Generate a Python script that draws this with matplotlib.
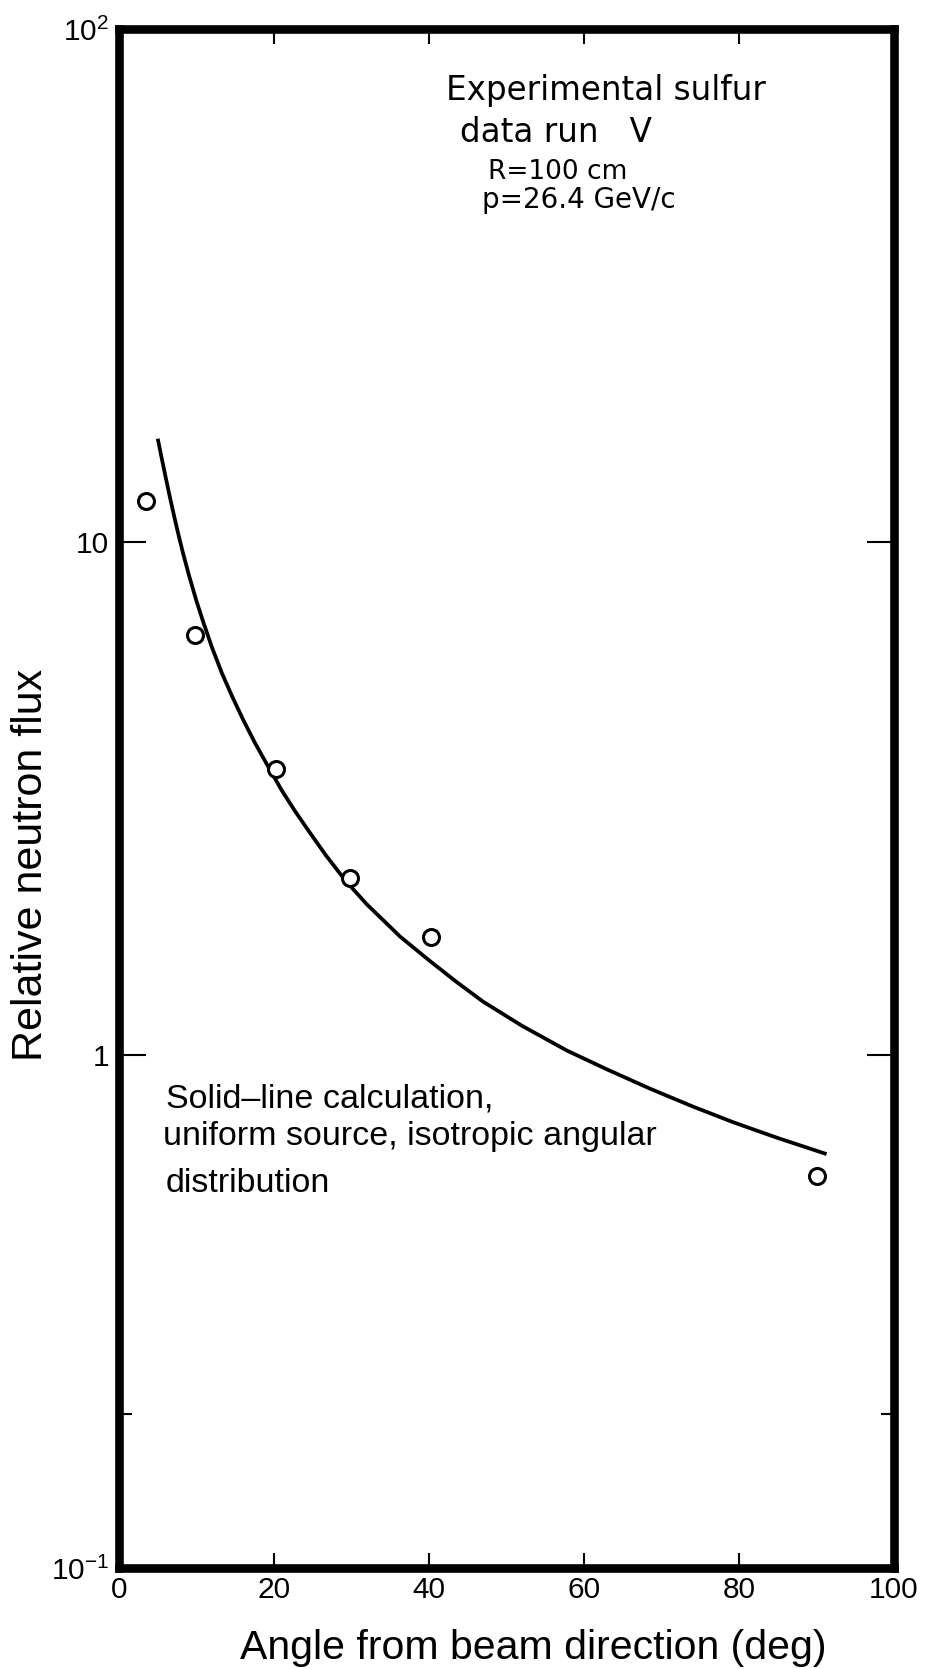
import numpy as np
import matplotlib
matplotlib.use("Agg")
import matplotlib.pyplot as plt
from matplotlib.ticker import FixedLocator, NullFormatter

# measured points (angle in deg, relative flux)
angle_meas = [3.5, 9.8, 20.2, 29.8, 40.3, 90.0]
flux_meas = [12.0, 6.58, 3.61, 2.21, 1.70, 0.581]

# calculated curve, uniform source / isotropic angular distribution
angle_calc = [5.0, 5.5, 6.0, 6.45, 7.0, 7.6, 8.2, 9.0, 10.0, 10.9, 12.0, 13.3, 14.6,
              16.0, 17.5, 19.2, 21.0, 22.7, 24.5, 26.7, 29.3, 32.0, 36.3, 40.0,
              43.5, 47.0, 52.0, 57.8, 63.0, 68.5, 74.0, 79.3, 85.0, 91.3]
flux_calc = [15.9, 14.59, 13.42, 12.46, 11.43, 10.44, 9.59, 8.64, 7.67, 6.96, 6.23,
             5.54, 5.00, 4.51, 4.07, 3.66, 3.28, 2.99, 2.73, 2.45, 2.18, 1.965,
             1.70, 1.53, 1.39, 1.27, 1.14, 1.02, 0.937, 0.860, 0.794, 0.739,
             0.689, 0.641]

x_ticks = [0, 20, 40, 60, 80, 100]
x_ticklabels = ["0", "20", "40", "60", "80", "100"]
y_ticks = [0.1, 1, 10, 100]
y_ticklabels = [r"$\mathregular{10^{-1}}$", "1", "10", r"$\mathregular{10^{2}}$"]
y_minor = [0.2]

W, H = 930, 1669
plt.rcParams["mathtext.fontset"] = "custom"
plt.rcParams["mathtext.rm"] = "Liberation Sans"
fig = plt.figure(figsize=(W / 100, H / 100), dpi=100)

# axes box in pixels: x 119..894, y 29..1568 (from top)
ax = fig.add_axes([119 / W, (H - 1568) / H, (894 - 119) / W, (1568 - 29) / H])
ax.set_xlim(0, 100)
ax.set_yscale("log")
ax.set_ylim(0.1, 100)

ax.plot(angle_calc, flux_calc, color="black", lw=2.7, solid_capstyle="butt",
        solid_joinstyle="round")
ax.plot(angle_meas, flux_meas, "o", ms=11.5, mfc="white", mec="black", mew=2.2, zorder=3)

for s in ax.spines.values():
    s.set_linewidth(6.2)
    s.set_color("black")

tick_font = dict(family="Liberation Sans", size=21.5)
ax.set_xticks(x_ticks)
ax.set_xticklabels(x_ticklabels, fontdict=tick_font)
ax.tick_params(axis="x", which="major", direction="in", length=10.8, width=1.5,
               top=True, bottom=True, pad=6)

ax.yaxis.set_major_locator(FixedLocator(y_ticks))
ax.set_yticklabels(y_ticklabels, fontdict=tick_font)
ax.yaxis.set_minor_locator(FixedLocator(y_minor))
ax.yaxis.set_minor_formatter(NullFormatter())
ax.tick_params(axis="y", which="major", direction="in", length=19.4, width=1.5,
               left=True, right=True, pad=7)
ax.tick_params(axis="y", which="minor", direction="in", length=9.4, width=1.5,
               left=True, right=True)


def px_text(x, y, s, **kw):
    fig.text(x / W, 1 - y / H, s, **kw)


# axis titles
px_text(533, 1659, "Angle from beam direction (deg)", ha="center", va="baseline",
        family="Liberation Sans", size=29.5)
px_text(31, 865, "Relative neutron flux", ha="center", va="center", rotation=90,
        family="Liberation Sans", size=31)

# run info block
px_text(446, 100, "Experimental sulfur", family="DejaVu Sans", size=23.5, va="baseline")
px_text(460, 142, "data run   V", family="DejaVu Sans", size=23.5, va="baseline")
px_text(488, 179, "R=100 cm", family="DejaVu Sans", size=19, va="baseline")
px_text(482, 208, "p=26.4 GeV/c", family="DejaVu Sans", size=20, va="baseline")

# curve description
note_b = dict(family="Liberation Sans", size=24.5, va="baseline")
px_text(166, 1108, "Solid\u2013line calculation,", **note_b)
px_text(163, 1145, "uniform source, isotropic angular", **note_b)
px_text(166, 1192, "distribution", **note_b)

fig.savefig("out.png", dpi=100)
